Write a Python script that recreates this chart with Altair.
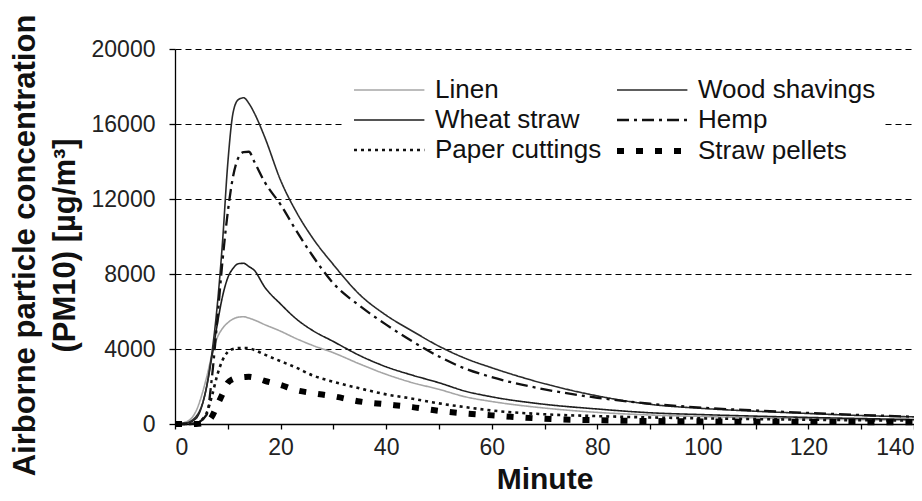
import altair as alt
import pandas as pd

minutes = [0, 2, 4, 6, 7, 8, 9, 10, 11, 12, 13, 14, 15, 17, 20, 23, 26, 30, 35, 40,
           45, 50, 55, 60, 70, 80, 90, 100, 110, 120, 130, 140]

# legend order (filled column by column): left column first, then right column
series_names = ["Linen", "Wheat straw", "Paper cuttings", "Wood shavings", "Hemp", "Straw pellets"]

linen = [0, 100, 700, 2500, 3700, 4600, 5100, 5400, 5600, 5700, 5720, 5650, 5550, 5300, 4950,
         4550, 4200, 3800, 3200, 2650, 2200, 1850, 1450, 1200, 850, 620, 480, 400, 330, 280, 230, 190]
wheat_straw = [0, 30, 300, 2000, 3600, 5300, 6800, 7800, 8300, 8550, 8570, 8400, 8200, 7300,
               6400, 5600, 5000, 4400, 3650, 3050, 2600, 2200, 1750, 1450, 1050, 800, 600, 500,
               420, 350, 290, 240]
paper_cuttings = [0, 0, 50, 600, 1500, 2600, 3400, 3850, 4000, 4050, 4050, 4040, 3950, 3700,
                  3350, 3000, 2600, 2250, 1900, 1580, 1350, 1100, 900, 720, 520, 420, 350, 300,
                  260, 230, 200, 180]
wood_shavings = [0, 50, 400, 2000, 3800, 6300, 9700, 13900, 16600, 17300, 17400, 17100, 16600,
                 15300, 13000, 11300, 9950, 8500, 6900, 5800, 4950, 4150, 3500, 3000, 2150, 1500,
                 1050, 830, 680, 560, 450, 380]
hemp = [0, 0, 50, 500, 2500, 5500, 8700, 11300, 13200, 14200, 14500, 14520, 14000, 12900, 11700,
        10300, 9000, 7500, 6300, 5300, 4400, 3600, 2950, 2500, 1850, 1400, 1080, 870, 720, 590, 480, 390]
straw_pellets = [0, 0, 0, 100, 400, 1000, 1600, 2200, 2400, 2480, 2500, 2520, 2480, 2300, 2080,
                 1800, 1650, 1480, 1200, 1050, 900, 700, 560, 460, 280, 200, 160, 140, 120, 110, 100, 90]

series_values = [linen, wheat_straw, paper_cuttings, wood_shavings, hemp, straw_pellets]

colors = ["#a6a6a6", "#1e1e1e", "#111111", "#2a2a2a", "#111111", "#000000"]
dashes = [[1, 0], [1, 0], [3, 4], [1, 0], [12, 5, 3, 5], [7, 12]]
widths = [1.6, 1.6, 2.6, 1.6, 2.3, 6]

rows = []
for name, vals in zip(series_names, series_values):
    for t, v in zip(minutes, vals):
        rows.append({"Minute": t, "Value": v, "Series": name})
df = pd.DataFrame(rows)

legend = alt.Legend(
    title=None,
    orient="none",
    legendX=170,
    legendY=22,
    columns=2,
    direction="vertical",
    fillColor="white",
    padding=6,
    symbolType="M-1,0H5.4",
    symbolSize=484,
    labelFontSize=26,
    labelFont="Liberation Sans",
    labelColor="#111",
    labelOffset=56,
    rowPadding=4,
    columnPadding=3,
    labelLimit=400,
)

chart = alt.Chart(df).mark_line(interpolate="monotone", strokeCap="butt").encode(
    x=alt.X("Minute:Q",
            scale=alt.Scale(domain=[0, 140], nice=False),
            axis=alt.Axis(title="Minute", values=list(range(0, 141, 10)),
                          labelExpr="datum.value % 20 == 0 ? datum.label : ''",
                          grid=False, tickSize=5, labelPadding=7,
                          titlePadding=5, titleFontSize=30)),
    y=alt.Y("Value:Q",
            scale=alt.Scale(domain=[0, 20000], nice=False),
            axis=alt.Axis(title=["Airborne particle concentration", "(PM10) [µg/m³]"],
                          values=[0, 4000, 8000, 12000, 16000, 20000], format="d",
                          grid=True, tickSize=6, labelPadding=14,
                          titleFontSize=31, titleLineHeight=40, titlePadding=10,
                          titleY=196)),
    color=alt.Color("Series:N", scale=alt.Scale(domain=series_names, range=colors), legend=legend),
    strokeDash=alt.StrokeDash("Series:N", scale=alt.Scale(domain=series_names, range=dashes), legend=legend),
    strokeWidth=alt.StrokeWidth("Series:N",
                                scale=alt.Scale(type="ordinal", domain=series_names, range=widths),
                                legend=legend),
).properties(
    width=739,
    height=375,
    padding={"left": 167, "top": 41, "right": 0, "bottom": 69},
    autosize=alt.AutoSizeParams(type="none"),
).configure(
    font="Liberation Sans",
).configure_view(
    stroke=None,
).configure_axis(
    domainColor="#000",
    domainWidth=1.3,
    tickColor="#000",
    tickWidth=1.3,
    labelFontSize=23,
    labelColor="#222",
    labelFont="Liberation Sans",
    titleFont="Liberation Sans",
    titleFontWeight="bold",
    titleColor="#111",
    gridColor="#000",
    gridDash=[6, 4],
    gridWidth=1,
    gridOpacity=1,
)

chart.save("out.html", embed_options={"renderer": "svg", "actions": False})
